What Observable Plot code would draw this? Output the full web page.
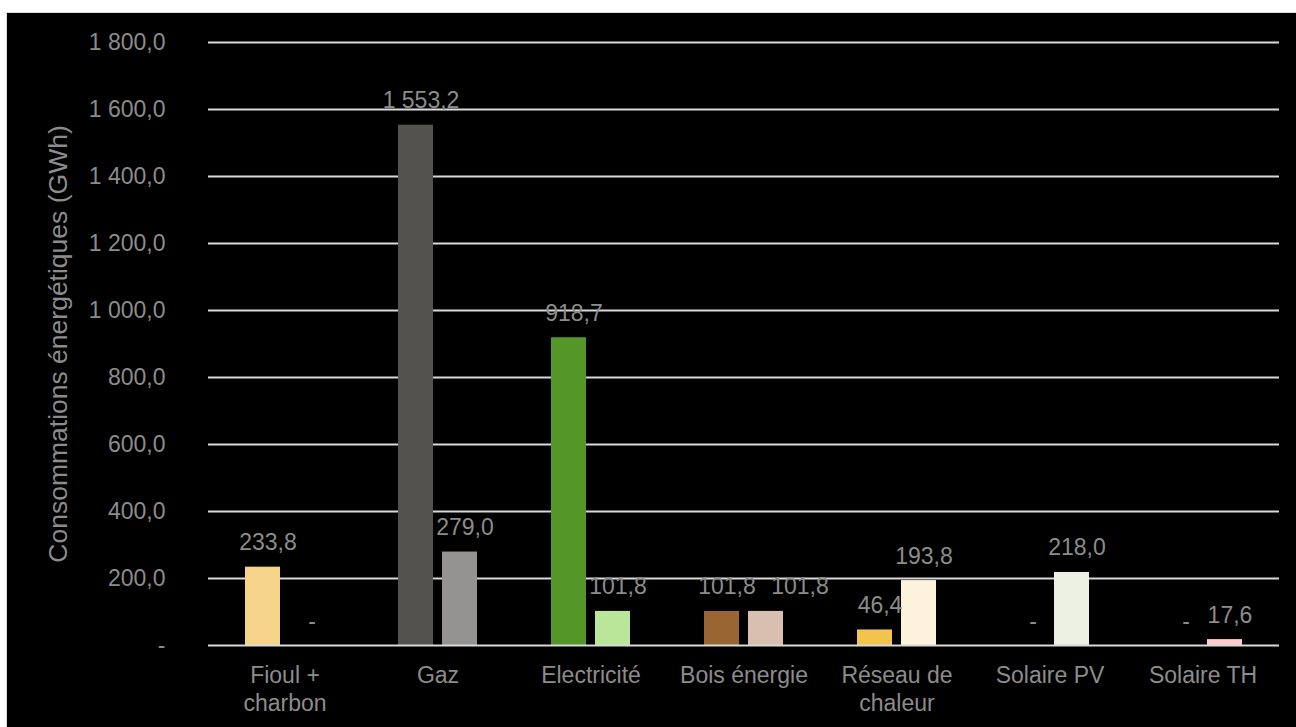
<!DOCTYPE html>
<html>
<head>
<meta charset="utf-8">
<script src="https://cdn.jsdelivr.net/npm/d3@7"></script>
<script src="https://cdn.jsdelivr.net/npm/@observablehq/plot@0.6"></script>
<style>
  html, body { margin: 0; padding: 0; background: #ffffff; }
  #frame {
    position: absolute; left: 6px; top: 12px;
    border-left: 1px solid #d9d9d9; border-top: 1px solid #d9d9d9;
    background: #000;
  }
  #frame svg { display: block; }
  g[aria-label="y-axis label"] text { font-size: 26.5px; }
</style>
</head>
<body>
<div id="frame"></div>
<script>
// ---- data ----
const categories = ["Fioul + charbon", "Gaz", "Electricité", "Bois énergie", "Réseau de chaleur", "Solaire PV", "Solaire TH"];
const categoryLabels = ["Fioul +\ncharbon", "Gaz", "Electricité", "Bois énergie", "Réseau de\nchaleur", "Solaire PV", "Solaire TH"];
const seriesNames = ["Série 1", "Série 2"];
const series1Values = [233.8, 1553.2, 918.7, 101.8, 46.4, 0, 0];
const series2Values = [0, 279.0, 101.8, 101.8, 193.8, 218.0, 17.6];
const series1Colors = ["#f5d48a", "#53524f", "#549628", "#996633", "#f2c44c", "#edf1e3", "#ffcccc"];
const series2Colors = ["#f5d48a", "#949391", "#b9e698", "#d8bfaf", "#fdf2dc", "#edf1e3", "#ffcccc"];
const yTicks = [0, 200, 400, 600, 800, 1000, 1200, 1400, 1600, 1800];
const yTitle = "Consommations énergétiques (GWh)";

// ---- table ----
const rows = [];
categories.forEach((c, i) => {
  rows.push({category: c, series: seriesNames[0], value: series1Values[i], color: series1Colors[i]});
  rows.push({category: c, series: seriesNames[1], value: series2Values[i], color: series2Colors[i]});
});

const fr = d3.formatLocale({decimal: ",", thousands: " ", grouping: [3], currency: ["", ""]});
const f1 = fr.format(",.1f");
const fmt = v => v === 0 ? "-" : f1(v);

// a label that would collide with its neighbour is pushed aside (as the spreadsheet does)
const isPushed = d => d.category === "Bois énergie" && d.series === seriesNames[1];

const textColor = "#8c8c8c";
const gridColor = "#d9d9d9";

const chart = Plot.plot({
  width: 1289,
  height: 714,
  marginLeft: 200,
  marginRight: 17,
  marginTop: 29,
  marginBottom: 82,
  style: {background: "#000", color: textColor, fontFamily: "'Liberation Sans', Arial, sans-serif", fontSize: "23px"},
  facet: {data: rows, x: "category"},
  fx: {domain: categories, padding: 0, label: null},
  x: {domain: seriesNames, paddingInner: 0.2045, paddingOuter: 0.841, axis: null, round: false},
  y: {domain: [0, 1800], label: null},
  color: {type: "identity"},
  marks: [
    Plot.ruleY(yTicks.filter(t => t > 0), {stroke: gridColor, strokeWidth: 2}),
    Plot.barY(rows, {x: "series", y: "value", fill: "color"}),
    Plot.ruleY([0], {stroke: gridColor, strokeWidth: 2}),
    Plot.text(rows, {filter: d => !isPushed(d), x: "series", y: "value", text: d => fmt(d.value), lineAnchor: "bottom", dy: -17, dx: 5, fill: textColor, fontSize: 23}),
    Plot.text(rows, {filter: isPushed, x: "series", y: "value", text: d => fmt(d.value), lineAnchor: "bottom", dy: -17, dx: 34, fill: textColor, fontSize: 23}),
    Plot.axisY({ticks: yTicks, tickFormat: fmt, tickSize: 0, tickPadding: 43, fontSize: 23, label: yTitle, labelAnchor: "center", labelArrow: "none", labelOffset: 160}),
    Plot.axisFx({anchor: "bottom", tickSize: 0, tickPadding: 18, fontSize: 23, lineHeight: 1.2, label: null, tickFormat: d => categoryLabels[categories.indexOf(d)]})
  ]
});
document.getElementById("frame").appendChild(chart);
</script>
</body>
</html>
